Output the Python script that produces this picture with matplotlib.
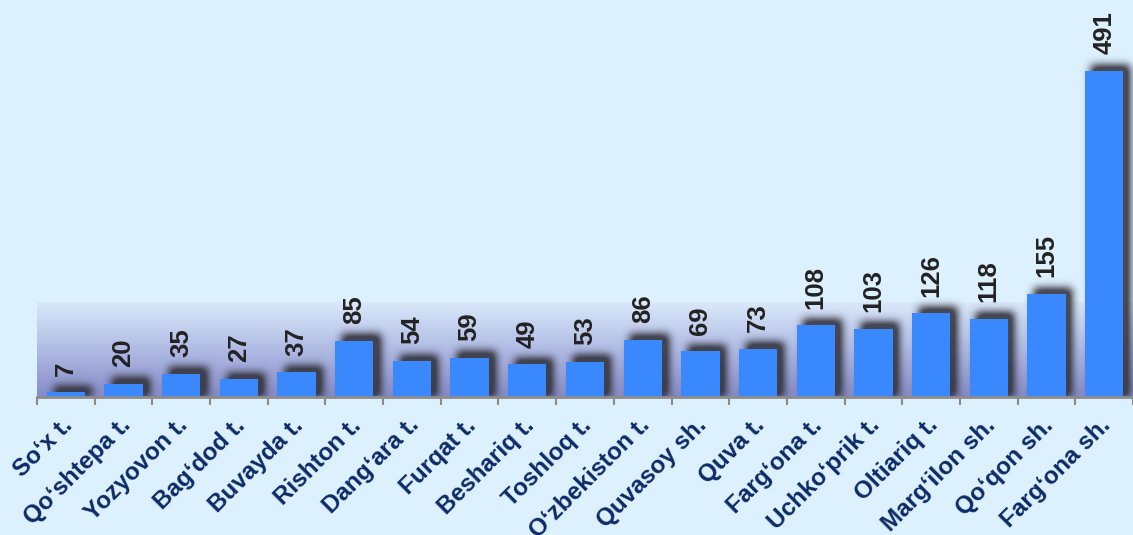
import numpy as np
import matplotlib
matplotlib.use("Agg")
import matplotlib.pyplot as plt
import matplotlib.transforms as mtransforms
from matplotlib.colors import LinearSegmentedColormap

plt.rcParams['font.family'] = ['Liberation Sans', 'DejaVu Sans']

# data
districts = ["So\u2018x t.", "Qo\u2018shtepa t.", "Yozyovon t.", "Bag\u2018dod t.", "Buvayda t.",
             "Rishton t.", "Dang\u2018ara t.", "Furqat t.", "Beshariq t.", "Toshloq t.",
             "O\u2018zbekiston t.", "Quvasoy sh.", "Quva t.", "Farg\u2018ona t.", "Uchko\u2018prik t.",
             "Oltiariq t.", "Marg\u2018ilon sh.", "Qo\u2018qon sh.", "Farg\u2018ona sh."]
values = [7, 20, 35, 27, 37, 85, 54, 59, 49, 53, 86, 69, 73, 108, 103, 126, 118, 155, 491]

bg = '#dcf0fe'
bar_col = '#3a88fd'

fig = plt.figure(figsize=(11.33, 5.35), dpi=100, facecolor=bg)
ax = fig.add_axes([37/1133, 1 - 397/535, 1 - 37/1133, 397/535])
ax.set_facecolor(bg)
n = len(values)
x0, x1, y0, y1 = -0.5, n - 0.5, 0, 598
ax.set_xlim(x0, x1)
ax.set_ylim(y0, y1)

# gradient back wall
wall = LinearSegmentedColormap.from_list('wall', ['#858bc6', '#b0bbe4', '#dae8fa'])
grad = np.linspace(0, 1, 256).reshape(-1, 1)
ax.imshow(grad, cmap=wall, origin='lower', aspect='auto',
          extent=[x0, x1, 0, 142], zorder=0)

x = np.arange(n)
w = 0.665

# blurred shadows (raster on a pixel grid of the axes)
nx, ny = 1096, 397
gx = np.linspace(x0, x1, nx)
gy = np.linspace(y0, y1, ny)
mask = np.zeros((ny, nx))
dx, dy = 0.12, 9
for xi, v in zip(x, values):
    cols = (gx >= xi - w/2 + dx) & (gx <= xi + w/2 + dx)
    rows = gy <= v + dy
    mask[np.ix_(rows, cols)] = 1.0
t = np.arange(-14, 15)
k = np.exp(-t**2 / (2 * 4.2**2))
k /= k.sum()
mask = np.apply_along_axis(lambda r: np.convolve(r, k, mode='same'), 1, mask)
mask = np.apply_along_axis(lambda c: np.convolve(c, k, mode='same'), 0, mask)
shadow = np.zeros((ny, nx, 4))
shadow[..., :3] = np.array([0.2, 0.2, 0.24])
shadow[..., 3] = np.clip(mask * 1.2, 0, 0.88)
ax.imshow(shadow, origin='lower', aspect='auto', extent=[x0, x1, y0, y1],
          interpolation='bilinear', zorder=1)

ax.bar(x, values, width=w, color=bar_col, zorder=2)

for xi, v in zip(x, values):
    ax.annotate(str(v), (xi, v), xytext=(0, 12), textcoords='offset points',
                rotation=90, ha='center', va='bottom', fontsize=18.5, fontweight='bold',
                color='#222222', zorder=3)

ax.set_xticks(x)
ax.set_xticklabels(districts, rotation=45, ha='right', rotation_mode='anchor',
                   fontsize=17.5, fontweight='bold', color='#0c2a66')
ax.tick_params(axis='x', which='major', length=0, pad=12)
shift = mtransforms.ScaledTranslation(-5/100, 0, fig.dpi_scale_trans)
for lab in ax.get_xticklabels():
    lab.set_transform(lab.get_transform() + shift)
ax.set_xticks(np.arange(-0.5, n), minor=True)
ax.tick_params(axis='x', which='minor', length=6, width=1.5, color='#8c8c8c')
ax.set_yticks([])
for s in ['top', 'right', 'left']:
    ax.spines[s].set_visible(False)
ax.spines['bottom'].set_color('#8c8c8c')
ax.spines['bottom'].set_linewidth(2)
ax.spines['bottom'].set_zorder(4)

fig.savefig('out.png', dpi=100, facecolor=bg)
